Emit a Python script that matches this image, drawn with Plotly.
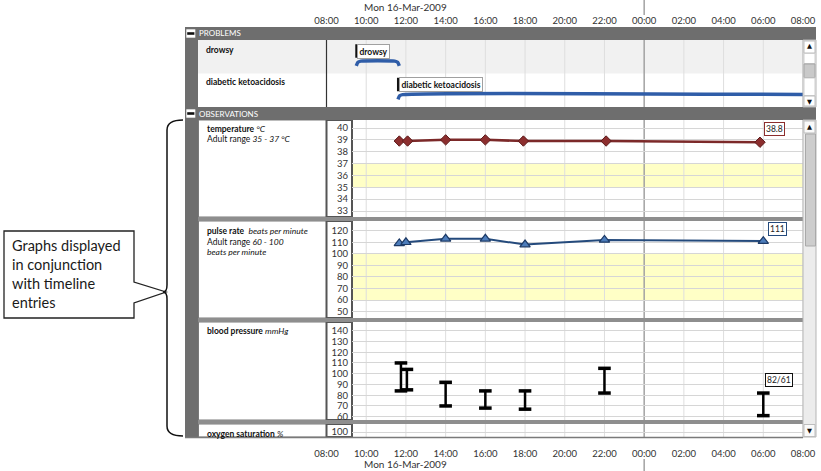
import plotly.graph_objects as go
from datetime import datetime, timedelta

# ---------------- data ----------------
day_label = "Mon 16-Mar-2009"
axis_start = "2009-03-16 08:00"
axis_end = "2009-03-17 08:00"
midnight = "2009-03-17 00:00"

problem_names = ["drowsy", "diabetic ketoacidosis"]
problem_start = ["2009-03-16 09:30", "2009-03-16 11:36"]
problem_end = ["2009-03-16 11:40", None]  # None = ongoing

temp_times = ["2009-03-16 11:40", "2009-03-16 12:05", "2009-03-16 14:00", "2009-03-16 16:00",
              "2009-03-16 17:55", "2009-03-16 22:05", "2009-03-17 05:50"]
temp_values = [38.9, 38.9, 39.0, 39.0, 38.9, 38.9, 38.8]
temp_normal = [35, 37]

pulse_times = ["2009-03-16 11:40", "2009-03-16 12:00", "2009-03-16 14:00", "2009-03-16 16:00",
               "2009-03-16 18:00", "2009-03-16 22:00", "2009-03-17 06:00"]
pulse_values = [109, 110, 113, 113, 108, 112, 111]
pulse_normal = [60, 100]

bp_times = ["2009-03-16 11:45", "2009-03-16 12:03", "2009-03-16 14:00", "2009-03-16 16:00",
            "2009-03-16 18:00", "2009-03-16 22:00", "2009-03-17 06:00"]
bp_systolic = [110, 104, 92, 84, 84, 105, 82]
bp_diastolic = [84, 85, 70, 68, 67, 82, 61]

oxygen_ticks = [100]

# ---------------- geometry (pixels) ----------------
W, H = 821, 471
FONT = "Lato"


def px(x):
    return x / W


def py(y):
    return 1 - y / H


X_STRIP, X_LAB, X_T0, X_VAL, X_T1, X_SB = 185, 198, 326.5, 352, 803, 816
PANELS = {"temp": (120, 217), "pulse": (221, 318), "bp": (322, 420), "oxy": (424, 437)}

t0 = datetime.fromisoformat(axis_start)
t1 = datetime.fromisoformat(axis_end)
obs_start = t0 + (X_VAL - X_T0) / (X_T1 - X_T0) * (t1 - t0)
obs_start_s = obs_start.strftime("%Y-%m-%d %H:%M:%S")
grid_times = [t0 + timedelta(hours=2 * k) for k in range(13)]
mid_dt = datetime.fromisoformat(midnight)


def yr(v_hi, p_hi, v_lo, p_lo, top, bot):
    k = (p_lo - p_hi) / (v_hi - v_lo)
    return [v_lo - (bot - p_lo) / k, v_hi + (p_hi - top) / k]


temp_rng = yr(40, 128, 33, 211, *PANELS["temp"])
pulse_rng = yr(120, 230.7, 50, 311.7, *PANELS["pulse"])
bp_rng = yr(140, 330.7, 60, 416.7, *PANELS["bp"])
oxy_rng = [95, 108]

fig = go.Figure()
shapes = []
annotations = []

GRAY = "#6e6e6e"


def rect(x0, y0, x1, y1, fill, line=None, lw=0, layer="below"):
    return dict(type="rect", xref="paper", yref="paper", x0=px(x0), x1=px(x1), y0=py(y1), y1=py(y0),
                fillcolor=fill, layer=layer, line=dict(width=lw, color=line or fill))


def pline(x0, y0, x1, y1, color, w, layer="above"):
    return dict(type="line", xref="paper", yref="paper", x0=px(x0), x1=px(x1), y0=py(y0), y1=py(y1),
                line=dict(color=color, width=w), layer=layer)


# problem row background (paper level, below everything)
shapes.append(rect(X_LAB, 40, X_T1, 73.5, "#f1f1f1"))

# yellow normal bands (subplot level, below grid)
for k, band in [(2, temp_normal), (3, pulse_normal)]:
    shapes.append(dict(type="rect", xref="x%d domain" % k, yref="y%d" % k, x0=0, x1=1, y0=band[0], y1=band[1],
                       fillcolor="#ffffc6", line=dict(width=0), layer="below"))

# vertical time grid lines (midnight darker)
for xr, yrf in [("x", "y"), ("x2", "y2"), ("x3", "y3"), ("x4", "y4"), ("x5", "y5")]:
    for gt in grid_times:
        if xr != "x" and gt < obs_start:
            continue
        if xr == "x" and gt == t0:
            continue
        is_mid = gt == mid_dt
        shapes.append(dict(type="line", xref=xr, yref=yrf + " domain", x0=gt, x1=gt, y0=0, y1=1,
                           line=dict(color="#a2a2a2" if is_mid else "#dedede", width=1.5 if is_mid else 1),
                           layer="below"))
for (a, b) in [(0, 15), (459, 471)]:
    shapes.append(dict(type="line", xref="x", yref="paper", x0=midnight, x1=midnight, y0=py(a), y1=py(b),
                       line=dict(color="#a2a2a2", width=1.5), layer="above"))

# ---------------- problems ----------------
BLUE = "#2f5da8"
for i, (name, s, e) in enumerate(zip(problem_names, problem_start, problem_end)):
    base = 1 - i
    flat, low = base + 0.37, base + 0.23
    sd = datetime.fromisoformat(s)
    xs = [sd, sd + timedelta(minutes=5), sd + timedelta(minutes=14)]
    ys = [low, low + 0.75 * (flat - low), flat]
    if e is not None:
        ed = datetime.fromisoformat(e)
        xs += [ed - timedelta(minutes=14), ed - timedelta(minutes=5), ed]
        ys += [flat, low + 0.75 * (flat - low), low]
    else:
        xs += [t1]
        ys += [flat]
    fig.add_trace(go.Scatter(x=xs, y=ys, xaxis="x", yaxis="y", mode="lines",
                             line=dict(color=BLUE, width=3.5, shape="spline", smoothing=0.6),
                             hoverinfo="skip"))
    shapes.append(dict(type="line", xref="x", yref="y", x0=s, x1=s, y0=base + 0.47, y1=base + 0.87,
                       line=dict(color="#111", width=2), layer="above"))
    annotations.append(dict(xref="x", yref="y", x=s, y=base + 0.67, xanchor="left", yanchor="middle",
                            text="<b>%s</b>" % name, showarrow=False, xshift=1,
                            font=dict(family=FONT, size=8.5, color="#111"),
                            bgcolor="white", bordercolor="#a0a0a0", borderwidth=1, borderpad=1.5))
    annotations.append(dict(xref="paper", yref="paper", x=px(204), y=py(50 + 32 * i), xanchor="left",
                            yanchor="middle", text="<b>%s</b>" % name, showarrow=False,
                            font=dict(family=FONT, size=8.5, color="#111")))

# ---------------- observations ----------------
RED, RED_D = "#8c2e2e", "#5c1b1b"
NAVY, MID = "#244a7c", "#4d7dbb"

fig.add_trace(go.Scatter(x=temp_times, y=temp_values, xaxis="x2", yaxis="y2", mode="lines+markers",
                         line=dict(color="#7c2929", width=2.5),
                         marker=dict(symbol="diamond", size=8, color=RED, line=dict(color=RED_D, width=1)),
                         hoverinfo="x+y"))
fig.add_trace(go.Scatter(x=pulse_times, y=pulse_values, xaxis="x3", yaxis="y3", mode="lines+markers",
                         line=dict(color=NAVY, width=2),
                         marker=dict(symbol="triangle-up", size=9, color=MID, line=dict(color="#1d3a66", width=1.2)),
                         hoverinfo="x+y"))

stem_x, stem_y = [], []
for t, s, d in zip(bp_times, bp_systolic, bp_diastolic):
    stem_x += [t, t, None]
    stem_y += [d, s, None]
fig.add_trace(go.Scatter(x=stem_x, y=stem_y, xaxis="x4", yaxis="y4", mode="lines",
                         line=dict(color="black", width=2.5), hoverinfo="skip"))
fig.add_trace(go.Scatter(x=bp_times + bp_times, y=bp_systolic + bp_diastolic, xaxis="x4", yaxis="y4",
                         mode="markers", marker=dict(symbol="line-ew", size=9, color="black",
                                                     line=dict(color="black", width=3.5)),
                         hoverinfo="x+y"))

fig.add_trace(go.Scatter(x=[axis_end], y=[oxygen_ticks[0]], xaxis="x5", yaxis="y5", mode="markers",
                         marker=dict(opacity=0), hoverinfo="skip"))
fig.add_trace(go.Scatter(x=[axis_start], y=[0.5], xaxis="x6", yaxis="y6", mode="markers",
                         marker=dict(opacity=0), hoverinfo="skip"))

# value labels
annotations.append(dict(xref="x2", yref="y2", x=temp_times[-1], y=temp_values[-1], xanchor="left",
                        yanchor="bottom", xshift=4, yshift=6, text="%.1f" % temp_values[-1], showarrow=False,
                        font=dict(family=FONT, size=8.5, color="#222"), bgcolor="white",
                        bordercolor=RED, borderwidth=1, borderpad=1))
annotations.append(dict(xref="x3", yref="y3", x=pulse_times[-1], y=pulse_values[-1], xanchor="left",
                        yanchor="bottom", xshift=5, yshift=5, text="%d" % pulse_values[-1], showarrow=False,
                        font=dict(family=FONT, size=8.5, color="#222"), bgcolor="white",
                        bordercolor=NAVY, borderwidth=1, borderpad=1))
annotations.append(dict(xref="x4", yref="y4", x=bp_times[-1], y=bp_systolic[-1], xanchor="left",
                        yanchor="bottom", xshift=2, yshift=6,
                        text="%d/%d" % (bp_systolic[-1], bp_diastolic[-1]), showarrow=False,
                        font=dict(family=FONT, size=8.5, color="#222"), bgcolor="white",
                        bordercolor="#111", borderwidth=1, borderpad=1))

# ---------------- axes ----------------
base_x = dict(type="date", showgrid=False, dtick=7200000, tick0=axis_start, zeroline=False,
              showline=False, ticks="", fixedrange=True, automargin=False)
layout_axes = {}
layout_axes["xaxis"] = dict(base_x, domain=[px(X_T0), px(X_T1)], range=[axis_start, axis_end], side="top",
                            anchor="y", tickformat="%H:%M", ticklabelstandoff=13,
                            tickfont=dict(family=FONT, size=9.5, color="#333"))
layout_axes["yaxis"] = dict(domain=[py(107), py(40)], range=[0, 2], visible=False, anchor="x",
                            fixedrange=True, automargin=False)

panel_specs = [("temp", temp_rng, 1), ("pulse", pulse_rng, 10), ("bp", bp_rng, 10), ("oxy", oxy_rng, None)]
for k, (key, rng, dt) in enumerate(panel_specs, start=2):
    top, bot = PANELS[key]
    layout_axes["xaxis%d" % k] = dict(base_x, domain=[px(X_VAL), px(X_T1)], range=[obs_start_s, axis_end],
                                      anchor="y%d" % k, showticklabels=False)
    ya = dict(domain=[py(bot), py(top)], range=rng, anchor="x%d" % k, showgrid=True, gridcolor="#d6d6d6",
              zeroline=False, showline=False, ticks="", ticklabelstandoff=3, fixedrange=True,
              automargin=False, tickfont=dict(family=FONT, size=9.5, color="#333"))
    if dt is None:
        ya["tickvals"] = oxygen_ticks
    else:
        ya["dtick"] = dt
        ya["tick0"] = 0
    layout_axes["yaxis%d" % k] = ya

layout_axes["xaxis6"] = dict(base_x, domain=[px(X_T0), px(X_T1)], range=[axis_start, axis_end],
                             anchor="y6", tickformat="%H:%M",
                             tickfont=dict(family=FONT, size=9.5, color="#333"))
layout_axes["yaxis6"] = dict(domain=[py(446), py(445)], range=[0, 1], visible=False, anchor="x6",
                             automargin=False)

# ---------------- frame decorations ----------------
shapes.append(pline(X_T0, 40, X_T0, 107, "#333", 1.2))
shapes.append(rect(X_STRIP, 27, X_LAB, 437, GRAY, layer="above"))
for (y0, y1, label) in [(27, 40, "PROBLEMS"), (107, 120, "OBSERVATIONS")]:
    shapes.append(rect(X_STRIP, y0, X_SB, y1, GRAY, layer="above"))
    shapes.append(rect(186.3, y0 + 2.3, 195.3, y1 - 2.3, "white", layer="above"))
    shapes.append(rect(187.2, (y0 + y1) / 2 - 1.3, 194.4, (y0 + y1) / 2 + 1.3, "#111", layer="above"))
    annotations.append(dict(xref="paper", yref="paper", x=px(197), y=py((y0 + y1) / 2), xanchor="left",
                            yanchor="middle", text=label, showarrow=False,
                            font=dict(family=FONT, size=8, color="white")))

for key, (top, bot) in PANELS.items():
    shapes.append(rect(X_LAB + 0.5, top, X_T0, bot, "white", "#7a7a7a", 1))
    shapes.append(rect(X_T0, top, X_VAL, bot, "white", "#555555", 2))
for y0 in [217, 318, 420]:
    shapes.append(rect(X_LAB, y0, X_T1, y0 + 4, "#8e8e8e", layer="above"))
shapes.append(pline(X_STRIP, 437.5, X_T1, 437.5, "#7a7a7a", 1.5))

# scrollbars
shapes.append(rect(X_T1, 40, X_SB, 107, "#f4f4f4", "#b5b5b5", 1, layer="above"))
shapes.append(rect(X_T1 + 1, 41, X_SB - 1, 53, "white", "#bdbdbd", 1, layer="above"))
shapes.append(rect(X_T1 + 1, 53.5, X_SB - 1, 63.5, "white", "#cfcfcf", 1, layer="above"))
shapes.append(rect(X_T1 + 1, 64, X_SB - 1, 77.5, "#c9c9c9", "#a5a5a5", 1, layer="above"))
shapes.append(rect(X_T1 + 1, 78, X_SB - 1, 95.5, "white", "#cfcfcf", 1, layer="above"))
shapes.append(rect(X_T1 + 1, 96, X_SB - 1, 106, "white", "#bdbdbd", 1, layer="above"))
shapes.append(rect(X_T1, 120, X_SB, 437, "#ececec", "#b5b5b5", 1, layer="above"))
shapes.append(rect(X_T1 + 1, 121, X_SB - 1, 133, "#fafafa", "#bdbdbd", 1, layer="above"))
shapes.append(rect(X_T1 + 2.5, 134, X_SB - 0.5, 246, "#cdcdcd", "#a9a9a9", 1, layer="above"))
shapes.append(rect(X_T1 + 1, 424.5, X_SB - 1, 436.5, "#fafafa", "#bdbdbd", 1, layer="above"))
for yy, g in [(46.5, "▲"), (101.5, "▼"), (127, "▲"), (430.5, "▼")]:
    annotations.append(dict(xref="paper", yref="paper", x=px((X_T1 + X_SB) / 2), y=py(yy), text=g,
                            showarrow=False, xanchor="center", yanchor="middle",
                            font=dict(family="DejaVu Sans", size=6.5, color="#111")))

obs_labels = [
    (129, "<b>temperature</b> <i>°C</i>"),
    (138.5, "Adult range <i>35 - 37 °C</i>"),
    (231, "<b>pulse rate</b>\u00a0 <i>beats per minute</i>"),
    (241.5, "Adult range <i>60 - 100</i>"),
    (252, "<i>beats per minute</i>"),
    (331, "<b>blood pressure</b> <i>mmHg</i>"),
    (434, "<b>oxygen saturation</b> <i>%</i>"),
]
for yy, txt in obs_labels:
    annotations.append(dict(xref="paper", yref="paper", x=px(205), y=py(yy), xanchor="left", yanchor="middle",
                            text=txt, showarrow=False, font=dict(family=FONT, size=8.5, color="#111")))

for yy in [7, 464]:
    annotations.append(dict(xref="x", yref="paper", x="2009-03-16 12:00", y=py(yy), text=day_label,
                            showarrow=False, xanchor="center", yanchor="middle",
                            font=dict(family=FONT, size=10, color="#333")))

# callout box + brace
callout = "M {a},{b} L {c},{b} L {c},{d} L {e},{f} L {c},{g} L {c},{h} L {a},{h} Z".format(
    a=px(4), b=py(231), c=px(134), d=py(282), e=px(166), f=py(292), g=py(303), h=py(318))
shapes.append(dict(type="path", xref="paper", yref="paper", path=callout, fillcolor="white",
                   line=dict(color="#222", width=1.3), layer="above"))
brace = ("M {x0},{y0} Q {x1},{y0} {x1},{y1} L {x1},{y2} Q {x1},{ym} {x2},{ym} "
         "Q {x1},{ym} {x1},{y3} L {x1},{y4} Q {x1},{y5} {x0},{y5}").format(
    x0=px(183), x1=px(167), x2=px(163), y0=py(120), y1=py(130), y2=py(285), ym=py(292),
    y3=py(299), y4=py(426), y5=py(436))
shapes.append(dict(type="path", xref="paper", yref="paper", path=brace,
                   line=dict(color="#111", width=1.5), layer="above"))
annotations.append(dict(xref="paper", yref="paper", x=px(10), y=py(274), xanchor="left", yanchor="middle",
                        align="left", showarrow=False,
                        text="Graphs displayed<br>in conjunction<br>with timeline<br>entries",
                        font=dict(family=FONT, size=14.5, color="#1a1a1a")))

fig.update_layout(width=W, height=H, autosize=False, margin=dict(l=0, r=0, t=0, b=0, autoexpand=False),
                  paper_bgcolor="white", plot_bgcolor="rgba(0,0,0,0)", showlegend=False,
                  shapes=shapes, annotations=annotations, **layout_axes)

fig.write_html("out.html", config={"displayModeBar": False, "responsive": False},
               post_script=("document.documentElement.style.overflow='hidden';"
                            "document.body.style.overflow='hidden';"
                            "document.body.style.margin='0';document.body.style.padding='0';"))
